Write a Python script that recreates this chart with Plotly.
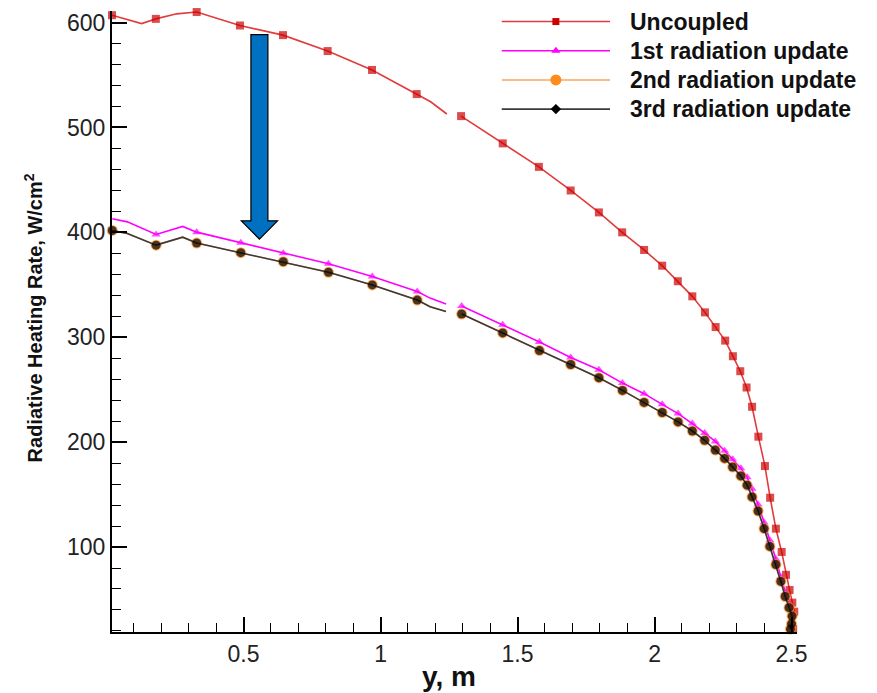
import plotly.graph_objects as go

# ---------------- data ----------------
uncoupled_x = [0.020, 0.128, 0.180, 0.256, 0.329, 0.487, 0.644, 0.807, 0.969, 1.132, 1.183, 1.242, None,
               1.294, 1.446, 1.578, 1.694, 1.797, 1.882, 1.962, 2.028, 2.085, 2.138, 2.184, 2.223,
               2.258, 2.286, 2.313, 2.336, 2.356, 2.379, 2.403, 2.422, 2.443, 2.464, 2.480, 2.493,
               2.503, 2.510, 2.506]
uncoupled_y = [607.0, 599.0, 603.5, 608.3, 610.0, 597.2, 588.0, 572.8, 554.8, 531.8, 524.5, 512.8, None,
               510.8, 484.8, 462.4, 439.9, 419.0, 400.0, 383.2, 368.2, 353.4, 339.0, 323.7, 309.7,
               296.8, 281.9, 267.6, 252.1, 233.7, 205.2, 177.2, 147.0, 117.5, 95.3, 73.5, 59.0,
               47.0, 38.4, 22.0]
uncoupled_marked = [1, 0, 1, 0, 1, 1, 1, 1, 1, 1, 0, 0, 0,
                    1, 1, 1, 1, 1, 1, 1, 1, 1, 1, 1, 1,
                    1, 1, 1, 1, 1, 1, 1, 1, 1, 1, 1, 1,
                    1, 1, 1]

update_x = [0.021, 0.076, 0.181, 0.278, 0.329, 0.490, 0.645, 0.810, 0.970, 1.134, 1.181, 1.239, None,
            1.296, 1.446, 1.580, 1.694, 1.797, 1.883, 1.962, 2.028, 2.086, 2.138, 2.183, 2.222,
            2.256, 2.285, 2.315, 2.338, 2.356, 2.378, 2.400, 2.421, 2.443, 2.461, 2.477, 2.491,
            2.502, 2.500, 2.496]
update1_y = [413.0, 410.0, 398.0, 405.6, 400.2, 390.0, 380.0, 370.0, 357.8, 343.5, 337.3, 331.6, None,
             329.7, 311.9, 295.5, 280.6, 269.0, 256.3, 246.2, 236.0, 227.2, 217.7, 208.8, 200.7,
             191.8, 183.6, 175.0, 166.5, 155.5, 140.5, 123.5, 106.5, 88.5, 71.5, 56.5, 44.5,
             35.5, 27.5, 22.5]
update2_y = [401.8, 398.8, 387.8, 395.4, 389.8, 380.6, 372.0, 361.9, 349.9, 335.4, 329.0, 324.6, None,
             322.1, 304.1, 287.3, 274.0, 261.4, 249.3, 237.9, 228.2, 219.3, 210.6, 201.8, 192.4,
             184.5, 176.3, 167.8, 159.0, 147.8, 134.3, 117.6, 100.6, 83.3, 67.2, 52.8, 42.2,
             34.2, 26.8, 21.8]
update3_y = [401.8, 398.8, 387.8, 395.4, 389.8, 380.6, 372.0, 361.9, 349.9, 335.4, 329.0, 324.6, None,
             322.1, 304.1, 287.3, 274.0, 261.4, 249.3, 237.9, 228.2, 219.3, 210.6, 201.8, 192.4,
             184.5, 176.3, 167.8, 159.0, 147.8, 134.3, 117.6, 100.6, 83.3, 67.2, 52.8, 42.2,
             34.2, 26.8, 21.8]
update_marked = [1, 0, 1, 0, 1, 1, 1, 1, 1, 1, 0, 0, 0,
                 1, 1, 1, 1, 1, 1, 1, 1, 1, 1, 1, 1,
                 1, 1, 1, 1, 1, 1, 1, 1, 1, 1, 1, 1,
                 1, 1, 1]
update1_marked = [0] + update_marked[1:]

series_names = ["Uncoupled", "1st radiation update", "2nd radiation update", "3rd radiation update"]

x_range = [0.02, 2.52]
y_range = [19, 611]

# ---------------- styling ----------------
FONT = "Liberation Sans, Arial, Helvetica, sans-serif"
RED_LINE, RED_MK = "#e23b3b", "#cc0000"
MAG = "#ff00ff"
ORA_LINE, ORA_MK = "#ffa45c", "#ff8c1a"
BLK_LINE, BLK_MK = "#3a3a3a", "#000000"


def sizes(flags, s):
    return [s if f else 0 for f in flags]


fig = go.Figure()

fig.add_trace(go.Scatter(
    x=uncoupled_x, y=uncoupled_y, mode="lines+markers", name=series_names[0],
    line=dict(color=RED_LINE, width=1.6),
    marker=dict(symbol="square", color=RED_MK, size=sizes(uncoupled_marked, 8), line=dict(width=0)),
    connectgaps=False, cliponaxis=False, showlegend=False))
fig.add_trace(go.Scatter(
    x=update_x, y=update1_y, mode="lines+markers", name=series_names[1],
    line=dict(color=MAG, width=1.6),
    marker=dict(symbol="triangle-up", color=MAG, size=sizes(update1_marked, 8), line=dict(width=0)),
    connectgaps=False, cliponaxis=False, showlegend=False))
fig.add_trace(go.Scatter(
    x=update_x, y=update2_y, mode="lines+markers", name=series_names[2],
    line=dict(color=ORA_LINE, width=1.6),
    marker=dict(symbol="circle", color=ORA_MK, size=sizes(update_marked, 11), line=dict(width=0)),
    connectgaps=False, cliponaxis=False, showlegend=False))
fig.add_trace(go.Scatter(
    x=update_x, y=update3_y, mode="lines+markers", name=series_names[3],
    line=dict(color=BLK_LINE, width=1.6),
    marker=dict(symbol="circle", color=BLK_MK, size=sizes(update_marked, 9), line=dict(width=0)),
    connectgaps=False, cliponaxis=False, showlegend=False))

# ---------------- custom legend (overlay axes in paper units) ----------------
leg_styles = [
    (RED_LINE, RED_MK, "square", 7),
    (MAG, MAG, "triangle-up", 8),
    (ORA_LINE, ORA_MK, "circle", 11),
    (BLK_LINE, BLK_MK, "diamond", 8),
]
leg_rows = [0.983, 0.936, 0.889, 0.842]
lx0, lx1, lxm, ltx = 0.569, 0.727, 0.648, 0.754
for name, (lc, mc, sym, ms), ry in zip(series_names, leg_styles, leg_rows):
    fig.add_trace(go.Scatter(x=[lx0, lx1], y=[ry, ry], mode="lines", line=dict(color=lc, width=1.6),
                             xaxis="x2", yaxis="y2", showlegend=False, hoverinfo="skip"))
    fig.add_trace(go.Scatter(x=[lxm], y=[ry], mode="markers",
                             marker=dict(symbol=sym, color=mc, size=ms, line=dict(width=0)),
                             xaxis="x2", yaxis="y2", showlegend=False, hoverinfo="skip", cliponaxis=False))
    fig.add_annotation(x=ltx, y=ry, xref="paper", yref="paper", text="<b>" + name + "</b>",
                       showarrow=False, xanchor="left", yanchor="middle",
                       font=dict(family=FONT, size=23, color="#111111"))

# ---------------- blue arrow ----------------
ax, aw, ahw = 0.558, 0.031, 0.066
a_top, a_hb, a_tip = 588.5, 411.0, 393.5
path = (f"M {ax-aw},{a_top} L {ax+aw},{a_top} L {ax+aw},{a_hb} L {ax+ahw},{a_hb} "
        f"L {ax},{a_tip} L {ax-ahw},{a_hb} L {ax-aw},{a_hb} Z")
fig.add_shape(type="path", path=path, xref="x", yref="y",
              fillcolor="#0070c0", line=dict(color="#000000", width=1.2))

# ---------------- axis titles ----------------
fig.add_annotation(x=0.492, y=-0.072, xref="paper", yref="paper", text="<b>y, m</b>",
                   showarrow=False, xanchor="center", yanchor="middle",
                   font=dict(family=FONT, size=28, color="#111111"))
fig.add_annotation(x=-0.1153, y=0.505, xref="paper", yref="paper",
                   text="<b>Radiative Heating Rate, W/cm<sup>2</sup></b>", textangle=-90,
                   showarrow=False, xanchor="center", yanchor="middle",
                   font=dict(family=FONT, size=20, color="#111111"))

axis_common = dict(showline=True, linecolor="black", linewidth=2, ticks="inside", tickwidth=2,
                   ticklen=15, tickcolor="black", showgrid=False, zeroline=False,
                   tickfont=dict(family=FONT, size=23, color="#222222"))

fig.update_layout(
    width=877, height=693,
    margin=dict(l=112, r=80, t=11, b=61),
    paper_bgcolor="white", plot_bgcolor="white",
    font=dict(family=FONT),
    xaxis=dict(range=x_range, tick0=0, dtick=0.5,
               minor=dict(ticks="inside", ticklen=9, tickwidth=1, tickcolor="black", dtick=0.1, tick0=0),
               **axis_common),
    yaxis=dict(range=y_range, tick0=0, dtick=100,
               minor=dict(ticks="inside", ticklen=9, tickwidth=1, tickcolor="black", dtick=20, tick0=0),
               **axis_common),
    xaxis2=dict(overlaying="x", range=[0, 1], visible=False, fixedrange=True),
    yaxis2=dict(overlaying="y", range=[0, 1], visible=False, fixedrange=True),
    showlegend=False,
)

fig.write_html("out.html")
